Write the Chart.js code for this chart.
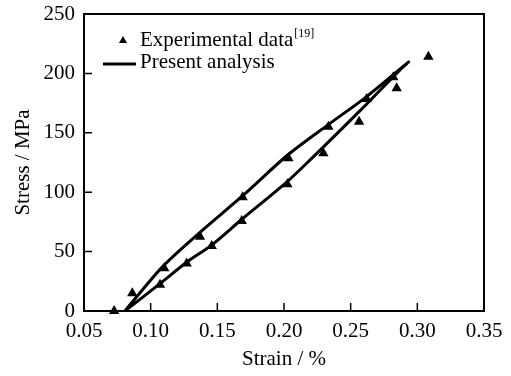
<!DOCTYPE html>
<html>
<head>
<meta charset="utf-8">
<script src="https://cdn.jsdelivr.net/npm/chart.js@4/dist/chart.umd.min.js"></script>
<style>
  html, body { margin: 0; padding: 0; background: #fff; }
  #wrap { width: 511px; height: 376px; }
</style>
</head>
<body>
<div id="wrap"><canvas id="hysteresisChart" width="511" height="376"></canvas></div>
<script>
// Experimental data [19]
const expStrain = [0.0726, 0.0862, 0.1102, 0.137, 0.169, 0.2033, 0.2333, 0.262, 0.282, 0.3083,
                   0.2845, 0.2563, 0.2295, 0.2025, 0.1683, 0.1458, 0.127, 0.107];
const expStress = [0, 15, 36, 62.5, 95.7, 128.5, 155, 178.5, 196.7, 214,
                   187.5, 159.4, 132.7, 106.6, 75.8, 54.7, 40, 22];

// Present analysis (loading up, then unloading back down)
const modelStrain = [0.0807, 0.0895, 0.1095, 0.1357, 0.1695, 0.203, 0.234, 0.262, 0.2933,
                     0.287, 0.2565, 0.2208, 0.202, 0.1682, 0.1457, 0.127, 0.107, 0.0807];
const modelStress = [0, 12, 38, 65, 97.5, 131.5, 157.5, 180.5, 209.5,
                     203, 168, 128.5, 108.5, 77, 55.5, 41, 23, 0];

const xTicks = [0.05, 0.10, 0.15, 0.20, 0.25, 0.30, 0.35];
const yTicks = [0, 50, 100, 150, 200, 250];

const serif = '"Liberation Serif", "Times New Roman", serif';

const toPoints = (xs, ys) => xs.map((x, i) => ({ x: x, y: ys[i] }));

// frame, inward ticks and the legend inside the plot
const framePlugin = {
    id: 'frame',
    afterDatasetsDraw(chart) {
        const ctx = chart.ctx;
        const a = chart.chartArea;
        const xs = chart.scales.x, ys = chart.scales.y;
        ctx.save();
        ctx.setLineDash([]);
        ctx.strokeStyle = 'rgb(0,0,0)';
        ctx.lineWidth = 2;
        ctx.beginPath();
        ctx.rect(a.left, a.top, a.right - a.left, a.bottom - a.top);
        ctx.stroke();

        ctx.lineWidth = 1.5;
        ctx.beginPath();
        xTicks.forEach(v => {
            const px = xs.getPixelForValue(v);
            ctx.moveTo(px, a.bottom);
            ctx.lineTo(px, a.bottom - 8);
        });
        yTicks.forEach(v => {
            const py = ys.getPixelForValue(v);
            ctx.moveTo(a.left, py);
            ctx.lineTo(a.left + 8, py);
        });
        ctx.stroke();

        // legend
        ctx.fillStyle = '#000';
        ctx.beginPath();
        ctx.moveTo(123, 36);
        ctx.lineTo(127, 43);
        ctx.lineTo(119, 43);
        ctx.closePath();
        ctx.fill();

        ctx.lineWidth = 3;
        ctx.beginPath();
        ctx.moveTo(103, 64);
        ctx.lineTo(136, 64);
        ctx.stroke();

        ctx.font = '21px ' + serif;
        ctx.textBaseline = 'alphabetic';
        ctx.textAlign = 'left';
        ctx.fillText('Experimental data', 140, 46);
        const w = ctx.measureText('Experimental data').width;
        ctx.font = '12px ' + serif;
        ctx.fillText('[19]', 140 + w + 1, 37);
        ctx.font = '21px ' + serif;
        ctx.fillText('Present analysis', 140, 68);
        ctx.restore();
    }
};

new Chart(document.getElementById('hysteresisChart'), {
    type: 'scatter',
    data: {
        datasets: [
            {
                label: 'Present analysis',
                data: toPoints(modelStrain, modelStress),
                showLine: true,
                borderColor: '#000',
                borderWidth: 3,
                pointRadius: 0,
                tension: 0.3,
                fill: false
            },
            {
                label: 'Experimental data',
                data: toPoints(expStrain, expStress),
                pointStyle: 'triangle',
                pointRadius: 6,
                backgroundColor: '#000',
                borderColor: '#000',
                borderWidth: 0,
                clip: false
            }
        ]
    },
    plugins: [framePlugin],
    options: {
        responsive: false,
        animation: false,
        layout: { padding: { left: 0, right: 27, top: 14, bottom: 0 } },
        scales: {
            x: {
                type: 'linear',
                min: 0.05,
                max: 0.35,
                afterFit: s => { s.height = 65; },
                afterBuildTicks: s => { s.ticks = xTicks.map(v => ({ value: v })); },
                grid: { display: false },
                border: { display: true, color: '#000', width: 2 },
                ticks: {
                    color: '#000',
                    padding: 0,
                    font: { family: serif, size: 21 },
                    maxRotation: 0,
                    callback: v => v.toFixed(2)
                },
                title: {
                    display: true,
                    text: 'Strain / %',
                    color: '#000',
                    font: { family: serif, size: 21 },
                    padding: { top: 0, bottom: 4 }
                }
            },
            y: {
                type: 'linear',
                min: 0,
                max: 250,
                afterFit: s => { s.width = 84; s.paddingTop = 0; s.paddingBottom = 0; },
                afterBuildTicks: s => { s.ticks = yTicks.map(v => ({ value: v })); },
                grid: { display: false },
                border: { display: true, color: '#000', width: 2 },
                ticks: {
                    color: '#000',
                    padding: 1,
                    font: { family: serif, size: 21 }
                },
                title: {
                    display: true,
                    text: 'Stress / MPa',
                    color: '#000',
                    font: { family: serif, size: 21 },
                    padding: { top: 11, bottom: 0 }
                }
            }
        },
        plugins: {
            legend: { display: false },
            tooltip: { enabled: false }
        }
    }
});
</script>
</body>
</html>
